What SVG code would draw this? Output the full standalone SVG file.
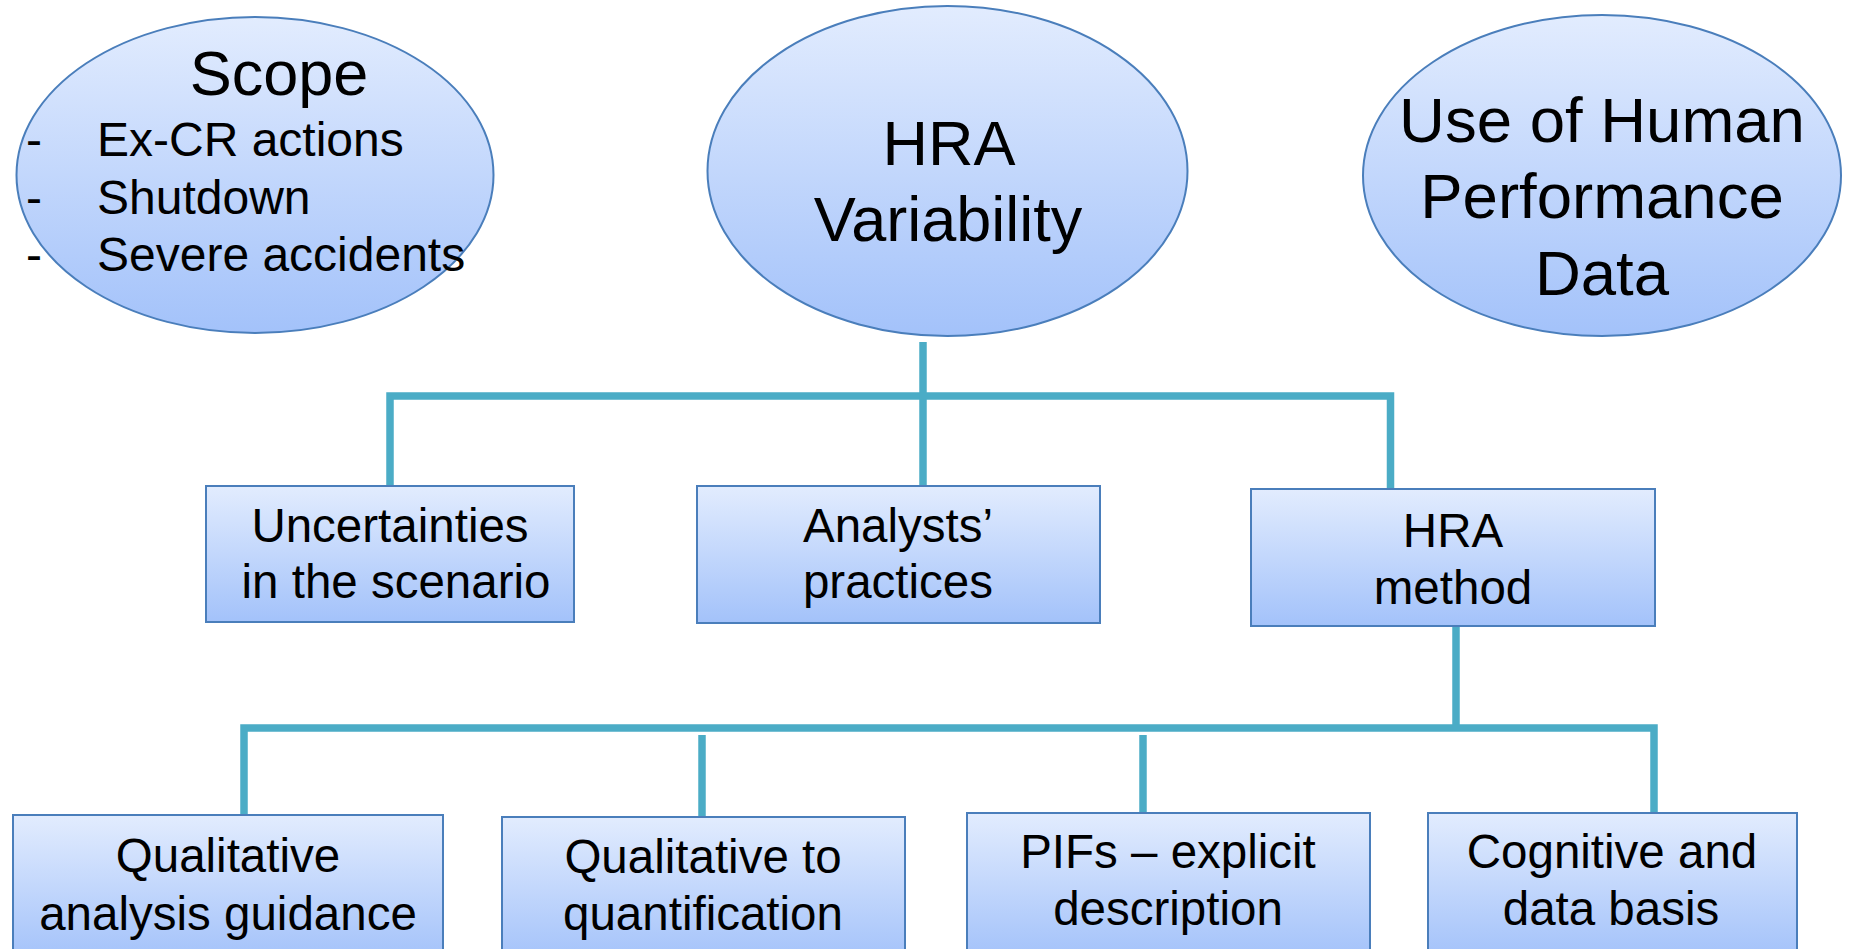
<svg xmlns="http://www.w3.org/2000/svg" width="1849" height="949" viewBox="0 0 1849 949">
  <defs>
    <linearGradient id="fillGrad" x1="0" y1="0" x2="0" y2="1">
      <stop offset="0" stop-color="#E2ECFE"/>
      <stop offset="1" stop-color="#A3C2FA"/>
    </linearGradient>
    <style>
      .shape { fill: url(#fillGrad); stroke: #4A7EBB; stroke-width: 2; }
      .link { fill: none; stroke: #4BACC6; stroke-width: 7.5; stroke-linecap: butt; stroke-linejoin: miter; }
      text { font-family: "Liberation Sans", Arial, sans-serif; fill: #000000; }
      .big { font-size: 63.5px; text-anchor: middle; }
      .mid { font-size: 47.5px; text-anchor: middle; }
      .item { font-size: 48px; }
    </style>
  </defs>

  <rect width="1849" height="949" fill="#FFFFFF"/>

  <!-- connectors -->
  <g id="connectors">
    <path class="link" d="M923 342 V486"/>
    <path class="link" d="M390 486 V396 H1390.5 V489"/>
    <path class="link" d="M1456 626 V728"/>
    <path class="link" d="M244 815 V728 H1654 V813"/>
    <path class="link" d="M702 735 V817"/>
    <path class="link" d="M1143 735 V813"/>
  </g>

  <!-- top row -->
  <g id="scope">
    <ellipse class="shape" cx="255" cy="175" rx="238.5" ry="158"/>
    <text class="big" x="279" y="95" style="font-size:63px">Scope</text>
    <text class="item" x="26" y="156">-</text>
    <text class="item" x="97" y="156">Ex-CR actions</text>
    <text class="item" x="26" y="214">-</text>
    <text class="item" x="97" y="214">Shutdown</text>
    <text class="item" x="26" y="271">-</text>
    <text class="item" x="97" y="271">Severe accidents</text>
  </g>

  <g id="hra-variability">
    <ellipse class="shape" cx="947.5" cy="171" rx="240" ry="165"/>
    <text class="big" x="949" y="165" style="font-size:63px">HRA</text>
    <text class="big" x="948" y="241" style="font-size:63px">Variability</text>
  </g>

  <g id="human-performance-data">
    <ellipse class="shape" cx="1602" cy="175.5" rx="239" ry="160.5"/>
    <text class="big" x="1602" y="142">Use of Human</text>
    <text class="big" x="1602" y="218">Performance</text>
    <text class="big" x="1602" y="295">Data</text>
  </g>

  <!-- middle row -->
  <g id="uncertainties">
    <rect class="shape" x="206" y="486" width="368" height="136"/>
    <text class="mid" x="390" y="542">Uncertainties</text>
    <text class="mid" x="396" y="598">in the scenario</text>
  </g>

  <g id="analysts-practices">
    <rect class="shape" x="697" y="486" width="403" height="137"/>
    <text class="mid" x="898" y="542">Analysts’</text>
    <text class="mid" x="898" y="598">practices</text>
  </g>

  <g id="hra-method">
    <rect class="shape" x="1251" y="489" width="404" height="137"/>
    <text class="mid" x="1453" y="547">HRA</text>
    <text class="mid" x="1453" y="604">method</text>
  </g>

  <!-- bottom row -->
  <g id="qualitative-guidance">
    <rect class="shape" x="13" y="815" width="430" height="145"/>
    <text class="mid" x="228" y="872">Qualitative</text>
    <text class="mid" x="228" y="930">analysis guidance</text>
  </g>

  <g id="qualitative-to-quantification">
    <rect class="shape" x="502" y="817" width="403" height="145"/>
    <text class="mid" x="703" y="873">Qualitative to</text>
    <text class="mid" x="703" y="930">quantification</text>
  </g>

  <g id="pifs">
    <rect class="shape" x="967" y="813" width="403" height="145"/>
    <text class="mid" x="1168" y="868">PIFs – explicit</text>
    <text class="mid" x="1168" y="925">description</text>
  </g>

  <g id="cognitive-data">
    <rect class="shape" x="1428" y="813" width="369" height="145"/>
    <text class="mid" x="1612" y="868">Cognitive and</text>
    <text class="mid" x="1611" y="925">data basis</text>
  </g>
</svg>
